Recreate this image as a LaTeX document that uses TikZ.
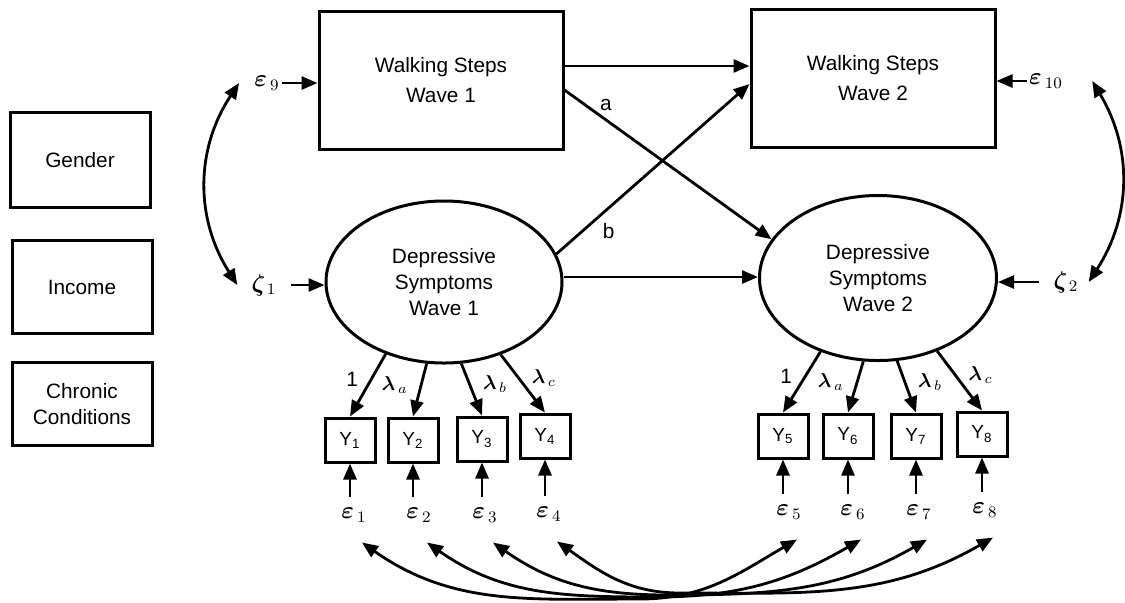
\documentclass[tikz,border=0pt]{standalone}
\usepackage{fontspec}
\setmainfont{Liberation Sans}
\usepackage{amsmath}
\usepackage{bm}
\usetikzlibrary{shapes.geometric,arrows.meta,positioning}

\tikzset{
  obs/.style={draw, line width=1.5pt, rectangle, align=center, font=\fontsize{10.4}{13}\selectfont},
  lat/.style={draw, line width=1.5pt, ellipse, align=center, inner sep=0pt, font=\fontsize{10.4}{13}\selectfont},
  ind/.style={draw, line width=1.5pt, rectangle, minimum width=25pt, minimum height=22pt, inner sep=0pt, font=\fontsize{9.5}{10}\selectfont},
  err/.style={inner sep=1pt, font=\fontsize{12}{14}\selectfont},
  lbl/.style={inner sep=2pt, font=\fontsize{10.4}{13}\selectfont},
  arr/.style={-{Triangle[length=8pt,width=6.5pt]}, line width=1.4pt},
  cov/.style={{Triangle[length=8pt,width=6.5pt]}-{Triangle[length=8pt,width=6.5pt]}, line width=1.4pt}
}

\begin{document}
\begin{tikzpicture}[x=0.5pt, y=0.5pt]
    \useasboundingbox (0,0) rectangle (1125,-602);

    \node[obs, minimum width=70pt, minimum height=47.5pt] (gender) at (80,-160) {Gender};
    \node[obs, minimum width=70pt, minimum height=46.5pt] (income) at (82,-287) {Income};
    \node[obs, minimum width=70pt, minimum height=41.5pt] (chronic) at (82,-404) {Chronic\\Conditions};

    \node[obs, minimum width=122pt, minimum height=69pt] (ws1) at (441,-80) {Walking Steps\\[2pt]Wave 1};
    \node[obs, minimum width=122pt, minimum height=69pt] (ws2) at (873,-78) {Walking Steps\\[2pt]Wave 2};
    \node[lat, minimum width=118pt, minimum height=81pt] (dep1) at (444,-282) {Depressive\\Symptoms\\Wave 1};
    \node[lat, minimum width=118.5pt, minimum height=82.5pt] (dep2) at (878,-278) {Depressive\\Symptoms\\Wave 2};

    \node[err] (eps9) at (267,-83) {$\bm{\varepsilon}_{\,9}$};
    \node[err] (eps10) at (1046,-81) {$\bm{\varepsilon}_{\,10}$};
    \node[err] (zeta1) at (264,-285) {$\bm{\zeta}_{\,1}$};
    \node[err] (zeta2) at (1066,-282) {$\bm{\zeta}_{\,2}$};

    \draw[arr] (eps9.east) -- (eps9.east -| ws1.west);
    \draw[arr] (eps10.west) -- (eps10.west -| ws2.east);
    \draw[arr] ([xshift=6pt]zeta1.east) -- (zeta1.east -| dep1.west);
    \draw[arr] ([xshift=-6pt]zeta2.west) -- (zeta2.west -| dep2.east);
    \draw[cov] ([xshift=-6.5pt]eps9.west) to[bend right=33] ([xshift=-6pt]zeta1.west);
    \draw[cov] ([xshift=13.5pt]eps10.east) to[bend left=32] ([xshift=4pt]zeta2.east);

    \draw[arr] ([yshift=7pt]ws1.east) -- ([yshift=7pt]ws1.east -| ws2.west);
    \draw[arr] ([yshift=-5pt]ws1.east) -- (dep2.160) node[lbl, pos=0.2, above=2pt] {a};
    \draw[arr] (dep1.14) -- ([yshift=-3pt]ws2.west) node[lbl, pos=0.27, below=5pt] {b};
    \draw[arr] ([yshift=2.5pt]dep1.east) -- ([yshift=2.5pt]dep1.east -| dep2.west);

    \foreach \n/\x/\y in {1/350/440, 2/413/440, 3/482/439, 4/545/436, 5/783/436, 6/848/436, 7/916/436, 8/982/434}
        \node[ind] (y\n) at (\x,-\y) {Y\textsubscript{\n}};
    \foreach \n/\x/\y in {1/354/515, 2/419/515, 3/485/515, 4/549/514, 5/789/512, 6/853/512, 7/919/512, 8/985/510}
        \node[err] (e\n) at (\x,-\y) {$\bm{\varepsilon}_{\,\n}$};
    \foreach \n in {1,...,8}
        \draw[arr] ([yshift=4pt]y\n.south |- e\n.north) -- (y\n.south);

    \draw[arr] (dep1.231) -- (y1.north) node[lbl, pos=0.4, left=4pt] {1};
    \draw[arr] (dep1.258) -- (y2.north) node[lbl, pos=0.4, left=4pt] {$\bm{\lambda}_{\,a}$};
    \draw[arr] (dep1.282) -- (y3.north) node[lbl, pos=0.4, right=4pt] {$\bm{\lambda}_{\,b}$};
    \draw[arr] (dep1.308) -- (y4.north) node[lbl, pos=0.4, right=4pt] {$\bm{\lambda}_{\,c}$};
    \draw[arr] (dep2.232) -- (y5.north) node[lbl, pos=0.4, left=4pt] {1};
    \draw[arr] (dep2.260) -- (y6.north) node[lbl, pos=0.4, left=4pt] {$\bm{\lambda}_{\,a}$};
    \draw[arr] (dep2.283) -- (y7.north) node[lbl, pos=0.4, right=4pt] {$\bm{\lambda}_{\,b}$};
    \draw[arr] (dep2.309) -- (y8.north) node[lbl, pos=0.4, right=4pt] {$\bm{\lambda}_{\,c}$};

    \foreach \n/\x/\y in {1/640/599, 2/655/597, 3/668/595, 4/680/593}
        \coordinate (low\n) at (\x,-\y);
    \foreach \n/\m in {1/5, 2/6, 3/7, 4/8}
        \draw[cov] ([xshift=4pt,yshift=-9pt]e\n.south) to[out=-35, in=180] (low\n) to[out=0, in=-150] ([xshift=4pt,yshift=-9pt]e\m.south);
\end{tikzpicture}
\end{document}
